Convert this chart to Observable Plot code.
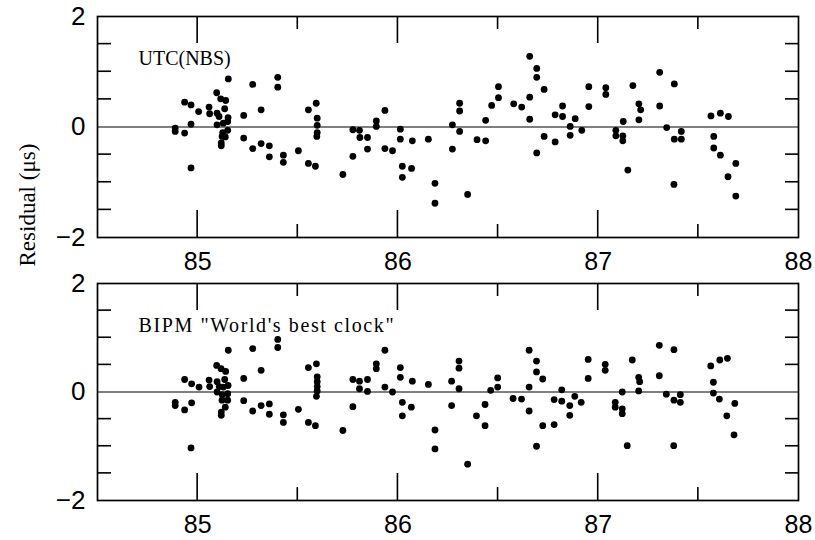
<!DOCTYPE html>
<html><head><meta charset="utf-8">
<script src="https://cdn.jsdelivr.net/npm/d3@7"></script>
<script src="https://cdn.jsdelivr.net/npm/@observablehq/plot@0.6"></script>
<style>
body{margin:0;background:#fff;}
svg{display:block}
</style></head><body>
<div id="wrap"></div>
<script>
// ---- data ----
const nbsYear = [84.888,84.888,84.935,84.935,84.967,84.967,84.967,85.005,85.057,85.060,85.095,85.097,85.097,85.107,85.115,85.140,85.135,85.152,85.150,85.150,85.128,85.125,85.122,85.138,85.118,85.118,85.153,85.230,85.230,85.275,85.275,85.317,85.317,85.358,85.358,85.400,85.400,85.428,85.428,85.503,85.553,85.553,85.588,85.592,85.597,85.597,85.597,85.595,85.725,85.775,85.775,85.808,85.810,85.848,85.848,85.892,85.892,85.935,85.935,85.973,86.012,86.012,86.022,86.022,86.072,86.068,86.152,86.185,86.185,
86.272,86.272,86.308,86.308,86.308,86.348,86.395,86.438,86.438,86.468,86.502,86.502,86.578,86.618,86.658,86.658,86.658,86.693,86.693,86.693,86.730,86.730,86.785,86.785,86.822,86.822,86.860,86.860,86.885,86.918,86.953,86.953,87.038,87.038,87.088,87.088,87.123,87.123,87.125,87.148,87.173,87.203,87.212,87.203,87.307,87.307,87.342,87.380,87.380,87.378,87.415,87.415,87.563,87.577,87.577,87.610,87.610,87.650,87.648,87.687,87.687];
const nbsResid = [-0.02,-0.08,-0.11,0.45,0.40,0.05,-0.74,0.28,0.36,0.24,0.62,0.25,0.04,0.19,0.51,0.48,0.33,0.17,0.10,-0.06,0.07,-0.10,-0.17,-0.18,-0.29,-0.34,0.87,0.21,-0.20,0.77,-0.39,0.31,-0.30,-0.34,-0.54,0.90,0.72,-0.51,-0.64,-0.43,0.31,-0.66,-0.71,0.43,0.16,0.03,-0.10,-0.17,-0.86,-0.05,-0.53,-0.06,-0.19,-0.19,-0.40,0.11,0.01,0.30,-0.39,-0.43,-0.04,-0.22,-0.71,-0.91,-0.25,-0.75,-0.22,-1.02,-1.38,
0.04,-0.40,0.43,0.29,-0.08,-1.22,-0.23,-0.25,0.12,0.39,0.73,0.53,0.42,0.36,1.28,0.54,0.14,1.06,0.90,-0.47,0.68,-0.17,0.22,-0.27,0.38,0.19,0.01,-0.15,0.15,-0.06,0.73,0.37,0.71,0.59,-0.06,-0.16,-0.16,-0.25,0.10,-0.78,0.75,0.42,0.31,0.13,0.99,0.38,-0.01,0.78,-0.22,-1.04,-0.08,-0.22,0.20,-0.17,-0.38,0.25,-0.51,0.19,-0.90,-0.66,-1.25];
const bipmYear = [84.888,84.888,84.935,84.935,84.970,84.970,84.967,85.007,85.057,85.060,85.095,85.097,85.097,85.108,85.117,85.140,85.135,85.152,85.150,85.150,85.128,85.123,85.122,85.138,85.118,85.118,85.153,85.230,85.230,85.275,85.275,85.317,85.317,85.358,85.358,85.400,85.400,85.428,85.428,85.503,85.553,85.553,85.588,85.593,85.597,85.597,85.597,85.597,85.593,85.725,85.775,85.775,85.808,85.808,85.848,85.848,85.892,85.892,85.935,85.935,85.973,86.012,86.012,86.022,86.022,86.072,86.067,86.152,86.185,86.185,
86.268,86.268,86.305,86.305,86.305,86.348,86.392,86.435,86.435,86.463,86.498,86.498,86.575,86.617,86.655,86.655,86.655,86.692,86.692,86.692,86.723,86.723,86.780,86.780,86.818,86.818,86.858,86.858,86.883,86.915,86.950,86.950,87.035,87.035,87.085,87.085,87.120,87.120,87.120,87.145,87.170,87.202,87.207,87.202,87.305,87.305,87.340,87.378,87.378,87.377,87.410,87.410,87.562,87.575,87.575,87.605,87.607,87.645,87.642,87.682,87.678];
const bipmResid = [-0.19,-0.25,-0.33,0.23,0.15,-0.20,-1.03,0.09,0.22,0.10,0.49,0.19,0.00,0.10,0.43,0.38,0.23,0.12,-0.03,-0.15,0.09,-0.05,-0.15,-0.28,-0.37,-0.43,0.77,0.25,-0.16,0.80,-0.35,0.40,-0.25,-0.22,-0.41,0.97,0.82,-0.42,-0.56,-0.32,0.45,-0.56,-0.62,0.52,0.28,0.19,0.10,0.02,-0.08,-0.71,0.23,-0.27,0.20,0.06,0.23,0.01,0.52,0.43,0.77,0.09,0.00,0.45,0.27,-0.19,-0.44,0.20,-0.28,0.14,-0.70,-1.05,
0.20,-0.25,0.57,0.44,0.06,-1.33,-0.44,-0.23,-0.62,0.03,0.26,0.09,-0.12,-0.13,0.77,0.09,-0.35,0.57,0.37,-1.00,0.24,-0.62,-0.14,-0.60,0.04,-0.17,-0.25,-0.43,-0.08,-0.19,0.60,0.25,0.51,0.40,-0.19,-0.28,0.00,-0.31,-0.40,-0.99,0.59,0.27,0.19,0.02,0.86,0.30,-0.04,0.78,-0.15,-0.99,-0.05,-0.19,0.48,0.18,-0.02,-0.13,0.59,0.62,-0.44,-0.21,-0.79];
const xTickLabels = [85, 86, 87, 88];
const xMajorTicks = [85, 86, 87];
const xMinorTicks = [85.5, 86.5, 87.5];
const yTickLabels = [-2, 0, 2];
const yMinorTicks = [-1.5, -1, -0.5, 0.5, 1, 1.5];
const panelLabels = ["UTC(NBS)", "BIPM \"World's best clock\""];
const yAxisTitle = "Residual (μs)";

function panel(years, resid, label, height, marginTop, marginBottom, withTitle) {
  const W = 815, ML = 97, MR = 17;
  const X0 = 84.5, X1 = 88, Y0 = -2, Y1 = 2;
  const data = years.map((x, i) => ({x, y: resid[i]}));
  const frameH = height - marginTop - marginBottom;
  const frameW = W - ML - MR;
  const py = (Y1 - Y0) / frameH, px = (X1 - X0) / frameW;
  const fmt = d => d < 0 ? "\u2212" + Math.abs(d) : String(d);
  const bar = {fill: "#000", stroke: "none"};
  const marks = [
    Plot.ruleY([0], {stroke: "#000", strokeWidth: 1.2}),
    Plot.dot(data, {x: "x", y: "y", r: 3.4, fill: "#000", stroke: "none"}),
    // inward tick marks as thin filled rects
    Plot.rect(xMajorTicks, {x1: d => d, x2: d => d, y1: Y1, y2: Y1 - 27 * py, insetLeft: -0.8, insetRight: -0.8, ...bar}),
    Plot.rect(xMajorTicks, {x1: d => d, x2: d => d, y1: Y0, y2: Y0 + 27 * py, insetLeft: -0.8, insetRight: -0.8, ...bar}),
    Plot.rect(xMinorTicks, {x1: d => d, x2: d => d, y1: Y1, y2: Y1 - 13 * py, insetLeft: -0.8, insetRight: -0.8, ...bar}),
    Plot.rect(xMinorTicks, {x1: d => d, x2: d => d, y1: Y0, y2: Y0 + 13 * py, insetLeft: -0.8, insetRight: -0.8, ...bar}),
    Plot.rect(yMinorTicks, {y1: d => d, y2: d => d, x1: X0, x2: X0 + 14 * px, insetTop: -0.8, insetBottom: -0.8, ...bar}),
    Plot.rect(yMinorTicks, {y1: d => d, y2: d => d, x1: X1 - 13 * px, x2: X1, insetTop: -0.8, insetBottom: -0.8, ...bar}),
    Plot.frame({stroke: "#000", strokeWidth: 1.7}),
    Plot.axisX({ticks: xTickLabels, tickSize: 0, tickPadding: 15, fontSize: 25, tickFormat: fmt, label: null}),
    Plot.axisY({ticks: yTickLabels, tickSize: 0, tickPadding: 12, fontSize: 26, tickFormat: fmt, label: null}),
    Plot.text([label], {text: d => d, frameAnchor: "top-left", dx: 41, dy: 34, textAnchor: "start",
      fontFamily: "'Liberation Serif', serif", fontSize: 20, fill: "#000"})
  ];
  if (withTitle) {
    marks.push(Plot.text([yAxisTitle], {text: d => d, frameAnchor: "left", dx: -70, dy: -(marginTop + frameH / 2) - 9,
      rotate: -90, fontFamily: "'Liberation Serif', serif", fontSize: 23, fill: "#000"}));
  }
  return Plot.plot({
    width: W, height, marginLeft: ML, marginRight: MR, marginTop, marginBottom,
    x: {domain: [X0, X1], label: null},
    y: {domain: [Y0, Y1], label: null},
    style: {background: "#fff", color: "#000", overflow: "visible", fontFamily: "'Liberation Sans', Arial, sans-serif"},
    marks
  });
}

const wrap = document.getElementById("wrap");
wrap.appendChild(panel(nbsYear, nbsResid, panelLabels[0], 275, 16, 38, false));
const p2 = panel(bipmYear, bipmResid, panelLabels[1], 265, 8, 40, true);
wrap.appendChild(p2);
p2.querySelectorAll("text").forEach(t => {
  if (t.textContent.includes("World")) t.style.letterSpacing = "1.6px";
});
</script>
</body></html>
